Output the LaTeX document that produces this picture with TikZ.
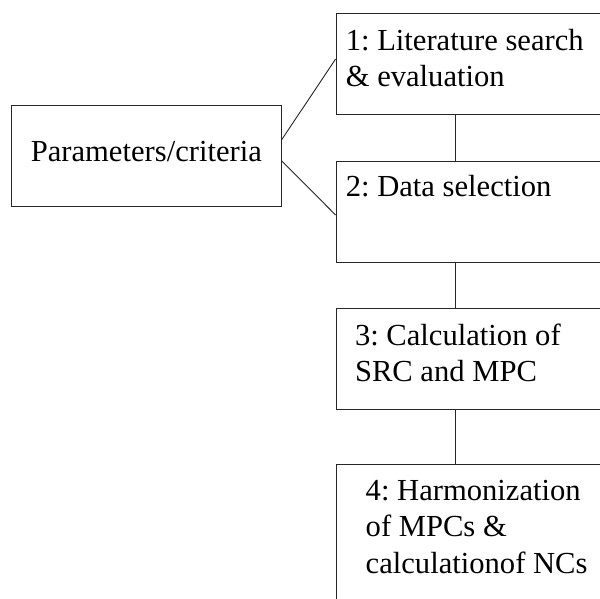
\documentclass[tikz,border=0pt]{standalone}
\usepackage{fontspec}
\setmainfont{Liberation Serif}
\usetikzlibrary{calc}
\tikzset{
  box/.style={draw=black!85, line width=1pt, rectangle, inner sep=0pt, anchor=north west},
  txt/.style={inner sep=0pt, anchor=base west, font=\rmfamily\fontsize{30.6}{36.8}\selectfont\frenchspacing},
  link/.style={draw=black!85, line width=0.9pt}
}
\newcommand{\lines}[1]{\begin{tabular}[t]{@{}l@{}}#1\end{tabular}}
\begin{document}
\frenchspacing
\begin{tikzpicture}[x=1pt,y=-1pt]
\useasboundingbox (0,0) rectangle (600,598);
\clip (0,0) rectangle (600,598);
% boxes
\node[box, minimum width=269.5pt, minimum height=101pt] (p) at (11,105) {};
\node[box, minimum width=300pt, minimum height=100.7pt] (s1) at (335.6,13.3) {};
\node[box, minimum width=300pt, minimum height=101pt] (s2) at (335.6,160.7) {};
\node[box, minimum width=300pt, minimum height=100.7pt] (s3) at (335.6,308.3) {};
\node[box, minimum width=300pt, minimum height=160pt] (s4) at (335.6,464.3) {};
% texts
\node[txt] (tp) at (30.6,161) {Parameters/criteria};
\node[txt] (t1) at (345.6,50) {\lines{1: Literature search\\ \& evaluation}};
\node[txt] (t2) at (345.6,196.8) {2: Data selection};
\node[txt] (t3) at (354.8,345) {\lines{3: Calculation of\\ SRC and MPC}};
\node[txt] (t4) at (365.5,500) {\lines{4: Harmonization\\ of MPCs \&\\ calculationof NCs}};
% connectors
\coordinate (pa) at ($(p.north east)+(0,35)$);
\coordinate (pb) at ($(p.north east)+(0,55.7)$);
\coordinate (s1l) at ($(s1.north west)+(0,45.7)$);
\coordinate (s2l) at ($(s2.north west)+(0,54.3)$);
\draw[link] (pa) -- (s1l);
\draw[link] (pb) -- (s2l);
\draw[link] (s1.south west -| 455.4,0) -- (s2.north west -| 455.4,0);
\draw[link] (s2.south west -| 455.4,0) -- (s3.north west -| 455.4,0);
\draw[link] (s3.south west -| 455.4,0) -- (s4.north west -| 455.4,0);
\end{tikzpicture}
\end{document}
